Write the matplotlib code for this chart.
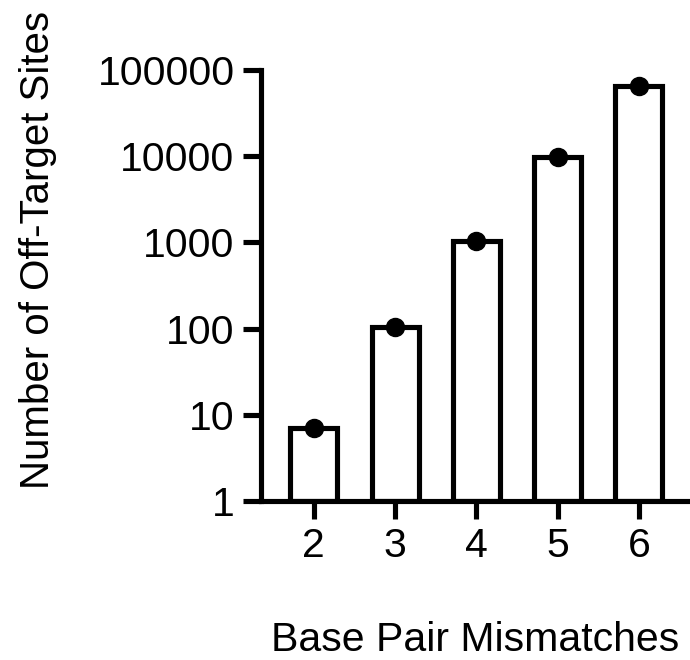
import matplotlib.pyplot as plt
import numpy as np

plt.rcParams['font.family'] = ['Liberation Sans', 'DejaVu Sans']

# data
mismatches = [2, 3, 4, 5, 6]
sites = [7, 103, 1050, 9900, 65000]
yticks = [1, 10, 100, 1000, 10000, 100000]

fig = plt.figure(figsize=(6.9, 6.6), dpi=100)
ax = fig.add_axes([261 / 690, 1 - 501 / 660, 1 - 261 / 690, (501 - 70) / 660])

ax.bar(mismatches, np.array(sites) - 1, bottom=1, width=0.58, color='white',
       edgecolor='black', linewidth=3.7, zorder=2)
ax.plot(mismatches, sites, 'o', color='black', markersize=13, zorder=3, clip_on=False)

ax.set_yscale('log')
ax.set_ylim(1, 100000)
ax.set_xlim(1.35, 6.63)
ax.set_yticks(yticks)
ax.set_yticklabels([str(t) for t in yticks])
ax.minorticks_off()
ax.set_xticks(mismatches)

for s in ['top', 'right']:
    ax.spines[s].set_visible(False)
for s in ['left', 'bottom']:
    ax.spines[s].set_linewidth(3.7)
ax.tick_params(width=3.7, length=13, labelsize=29.5, pad=6)

ax.set_xlabel('Base Pair Mismatches', fontsize=29.5, labelpad=40)
ax.set_ylabel('Number of Off-Target Sites', fontsize=29)
ax.yaxis.set_label_coords(-0.475, 0.582)

fig.savefig('out.png', dpi=100)
